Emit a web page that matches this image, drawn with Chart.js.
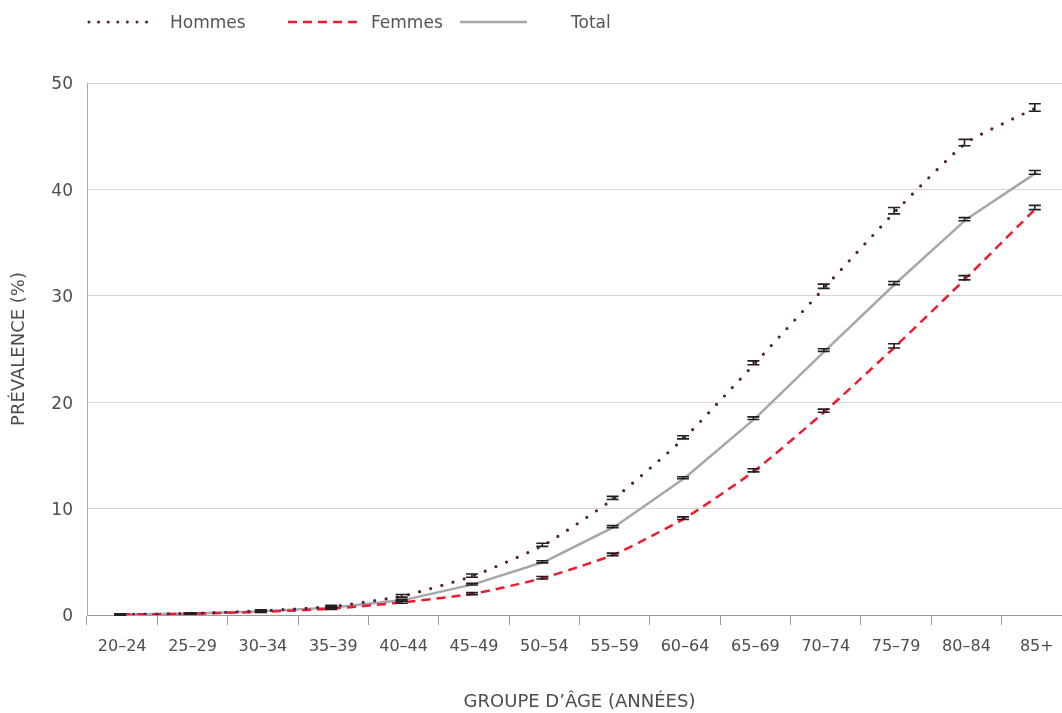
<!DOCTYPE html>
<html lang="fr">
<head>
<meta charset="utf-8">
<script src="https://cdn.jsdelivr.net/npm/chart.js@4.4.1/dist/chart.umd.min.js"></script>
<style>
  html, body { margin: 0; padding: 0; background: #fff; overflow: hidden; }
  #wrap { position: relative; width: 1062px; height: 713px; overflow: hidden; }
  #chart { position: absolute; left: 0; top: 0; }
  .legend { position: absolute; top: 0; left: 0; width: 1062px; height: 45px;
            font-family: "DejaVu Sans", sans-serif; font-size: 17px; color: #555; }
  .legend svg { position: absolute; top: 19px; }
  .legend span { position: absolute; top: 10px; line-height: 24px; white-space: nowrap; }
</style>
</head>
<body>
<div id="wrap">
  <canvas id="chart" width="1080" height="713"></canvas>
  <div class="legend">
    <svg style="left:86px" width="72" height="6"><line x1="3" y1="3" x2="70" y2="3" stroke="#561c4c" stroke-width="3" stroke-linecap="round" stroke-dasharray="0 9.6"/></svg>
    <span style="left:170px">Hommes</span>
    <svg style="left:288px" width="72" height="6"><line x1="0" y1="3" x2="70" y2="3" stroke="#ec1c2e" stroke-width="2.5" stroke-dasharray="9 6"/></svg>
    <span style="left:371px">Femmes</span>
    <svg style="left:460px" width="72" height="6"><line x1="0" y1="3" x2="67" y2="3" stroke="#a7a7a9" stroke-width="2.5"/></svg>
    <span style="left:571px">Total</span>
  </div>
</div>
<script>
// Age groups on the x axis
const ageGroups = ['20–24', '25–29', '30–34', '35–39', '40–44', '45–49', '50–54',
                   '55–59', '60–64', '65–69', '70–74', '75–79', '80–84', '85+'];

// Prevalence (%) by age group
const hommes = [0.05, 0.15, 0.4, 0.8, 1.8, 3.7, 6.6, 11.0, 16.7, 23.7, 30.9, 38.0, 44.4, 47.7];
const femmes = [0.05, 0.12, 0.3, 0.6, 1.2, 2.0, 3.5, 5.7, 9.1, 13.6, 19.2, 25.3, 31.7, 38.3];
const total  = [0.05, 0.14, 0.35, 0.7, 1.4, 2.9, 5.0, 8.3, 12.9, 18.5, 24.9, 31.2, 37.2, 41.6];

// Half-width of the confidence interval (percentage points)
const hommesErr = [0.05, 0.05, 0.08, 0.1, 0.12, 0.15, 0.15, 0.15, 0.15, 0.18, 0.2, 0.3, 0.3, 0.35];
const femmesErr = [0.05, 0.05, 0.06, 0.08, 0.1, 0.1, 0.12, 0.12, 0.12, 0.15, 0.15, 0.2, 0.2, 0.2];
const totalErr  = [0.04, 0.04, 0.05, 0.06, 0.08, 0.08, 0.1, 0.1, 0.1, 0.12, 0.12, 0.15, 0.15, 0.18];

// Y axis ticks
const yTicks = [0, 10, 20, 30, 40, 50];

const FONT = '"DejaVu Sans", sans-serif';

// Draws a capped vertical interval at every point of each dataset
const errorBars = {
  id: 'errorBars',
  afterDatasetsDraw(chart) {
    const ctx = chart.ctx;
    const x = chart.scales.x, y = chart.scales.y;
    ctx.save();
    ctx.strokeStyle = '#231f20';
    ctx.lineWidth = 1.6;
    chart.data.datasets.forEach(ds => {
      const err = ds.errors;
      ds.data.forEach((v, i) => {
        const px = x.getPixelForValue(i) - 2;
        const top = y.getPixelForValue(v + err[i]);
        const bot = y.getPixelForValue(v - err[i]);
        const half = 6;
        ctx.beginPath();
        ctx.moveTo(px, top); ctx.lineTo(px, bot);
        ctx.moveTo(px - half, top); ctx.lineTo(px + half, top);
        ctx.moveTo(px - half, bot); ctx.lineTo(px + half, bot);
        ctx.stroke();
      });
    });
    ctx.restore();
  }
};

new Chart(document.getElementById('chart'), {
  type: 'line',
  data: {
    labels: ageGroups,
    datasets: [
      { label: 'Hommes', data: hommes, errors: hommesErr, borderColor: '#561c4c',
        borderWidth: 3.2, borderDash: [0, 11.5], borderCapStyle: 'round', pointRadius: 0, tension: 0.15 },
      { label: 'Femmes', data: femmes, errors: femmesErr, borderColor: '#ec1c2e',
        borderWidth: 2.5, borderDash: [9, 6], pointRadius: 0, tension: 0.15 },
      { label: 'Total', data: total, errors: totalErr, borderColor: '#a7a7a9',
        borderWidth: 2.5, pointRadius: 0, tension: 0 }
    ]
  },
  options: {
    responsive: false,
    animation: false,
    layout: { padding: { top: 83, right: 8, left: 0, bottom: 0 } },
    plugins: { legend: { display: false }, tooltip: { enabled: false } },
    scales: {
      x: {
        offset: true,
        afterFit: s => { s.height = 98; },
        grid: { offset: true, drawOnChartArea: false, color: '#9a9a9a', tickLength: 10, lineWidth: 1 },
        border: { color: '#9a9a9a', width: 1 },
        ticks: { color: '#4d4d4d', font: { family: FONT, size: 16 }, padding: 12, maxRotation: 0, autoSkip: false },
        title: { display: true, text: 'GROUPE D’ÂGE (ANNÉES)', color: '#4d4d4d',
                 font: { family: FONT, size: 18 }, padding: { top: 0, bottom: 0 } }
      },
      y: {
        min: 0, max: 50,
        afterFit: s => { s.width = 87; },
        afterBuildTicks: s => { s.ticks = yTicks.map(v => ({ value: v })); },
        grid: { color: '#d6d6d6', drawTicks: false, lineWidth: 1 },
        border: { color: '#a9a9a9', width: 1 },
        ticks: { color: '#4d4d4d', font: { family: FONT, size: 17 }, padding: 14, labelOffset: 2 },
        title: { display: true, text: 'PRÉVALENCE (%)', color: '#4d4d4d',
                 font: { family: FONT, size: 18 }, padding: { top: 9, bottom: 0 } }
      }
    }
  },
  plugins: [errorBars]
});
</script>
</body>
</html>
